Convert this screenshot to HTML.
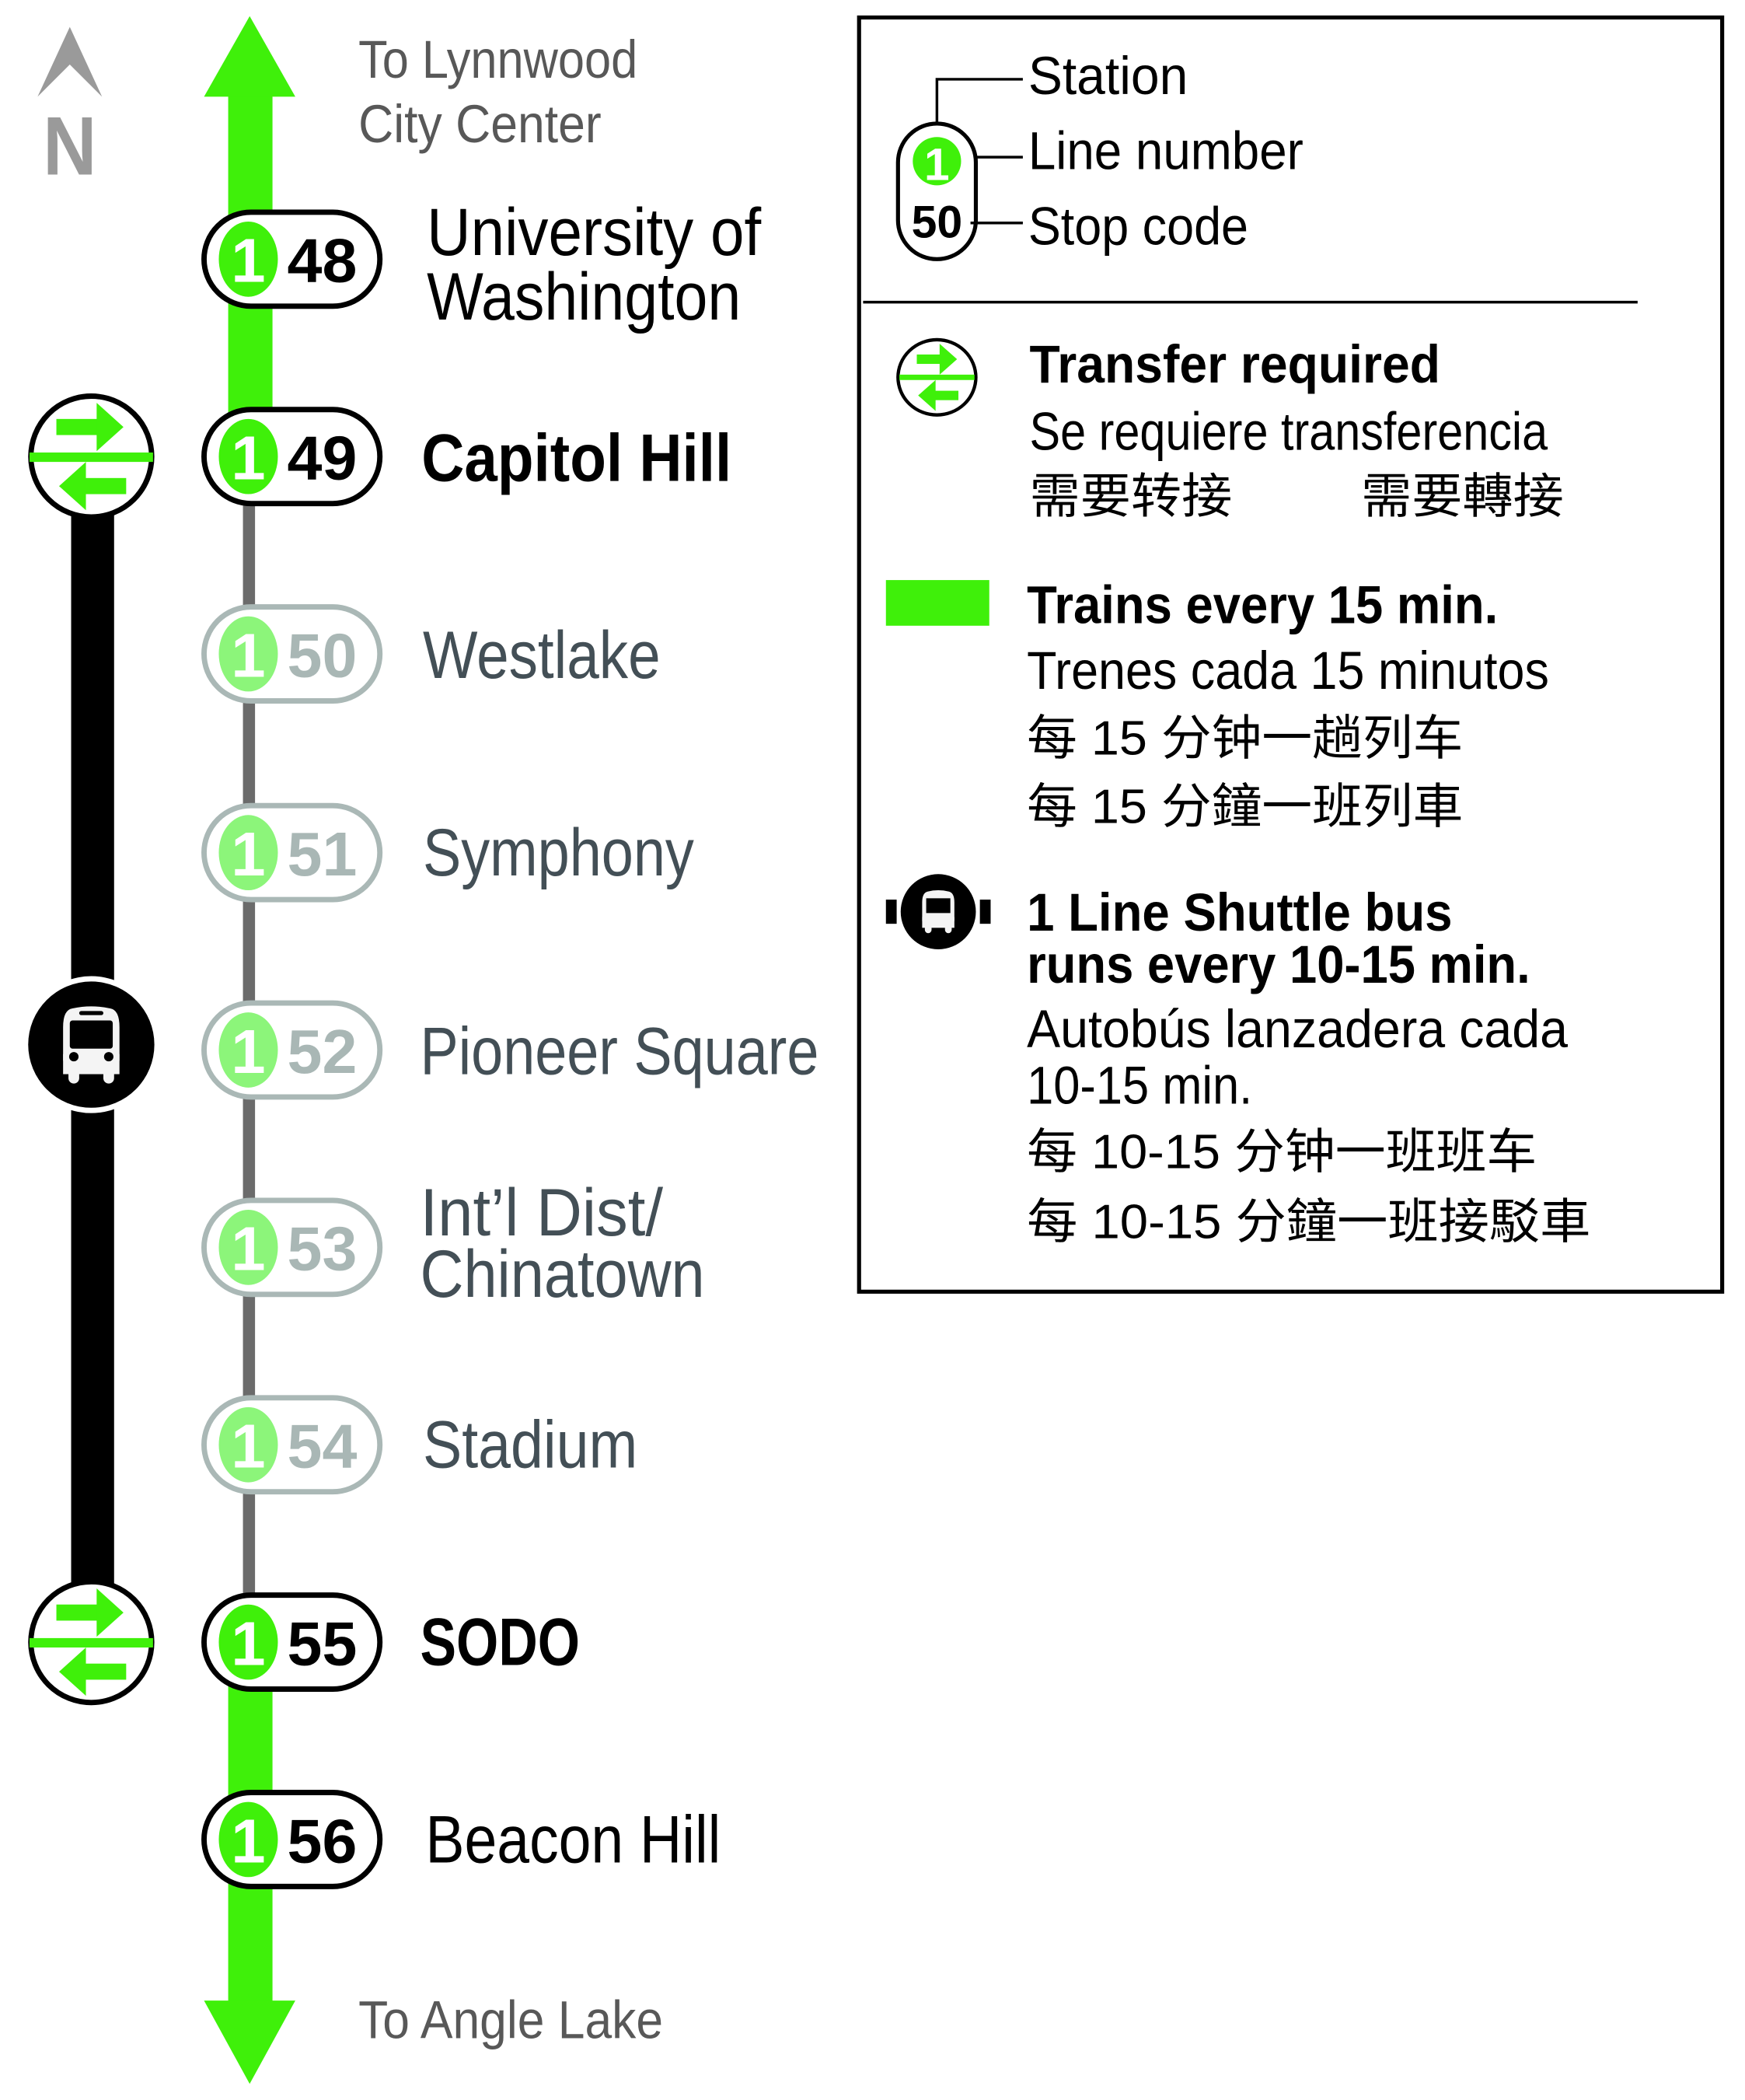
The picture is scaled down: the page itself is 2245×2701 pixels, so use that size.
<!DOCTYPE html>
<html><head><meta charset="utf-8"><style>
html,body{margin:0;padding:0;background:#fff;}
svg{display:block;}
text{font-family:"Liberation Sans Narrow","Liberation Sans","Noto Sans CJK SC",sans-serif;}
.cjk{font-family:"Liberation Sans","Noto Sans CJK SC",sans-serif;}
</style></head><body>
<svg width="2245" height="2701" viewBox="0 0 1300 1564" xmlns="http://www.w3.org/2000/svg">
<rect width="1300" height="1564" fill="#fff"/>
<polygon points="52,20 28,72 52,48 76,72" fill="#9a9a9a"/>
<text x="52" y="130" font-size="62" font-weight="bold" fill="#9a9a9a" text-anchor="middle" textLength="40" lengthAdjust="spacingAndGlyphs">N</text>

<rect x="170" y="70" width="33" height="260" fill="#3ff00a"/>
<polygon points="186,12 152,72 220,72" fill="#3ff00a"/>
<rect x="181" y="340" width="9" height="885" fill="#6b6b6b"/>
<rect x="170" y="1225" width="33" height="268" fill="#3ff00a"/>
<polygon points="186,1552 152,1490 220,1490" fill="#3ff00a"/>

<rect x="53" y="370" width="32" height="830" fill="#000"/>
<g>
<circle cx="68" cy="340" r="45" fill="#fff" stroke="#000" stroke-width="4"/>
<rect x="22" y="337" width="92" height="7" fill="#3ff00a"/>
<rect x="42" y="312" width="32" height="12" fill="#3ff00a"/><polygon points="72,300 92,318 72,336" fill="#3ff00a"/>
<rect x="62" y="356" width="32" height="12" fill="#3ff00a"/><polygon points="64,344 44,362 64,380" fill="#3ff00a"/>
</g>
<g transform="translate(0,883)">
<circle cx="68" cy="340" r="45" fill="#fff" stroke="#000" stroke-width="4"/>
<rect x="22" y="337" width="92" height="7" fill="#3ff00a"/>
<rect x="42" y="312" width="32" height="12" fill="#3ff00a"/><polygon points="72,300 92,318 72,336" fill="#3ff00a"/>
<rect x="62" y="356" width="32" height="12" fill="#3ff00a"/><polygon points="64,344 44,362 64,380" fill="#3ff00a"/>
</g>
<circle cx="68" cy="778" r="51" fill="#fff"/>
<circle cx="68" cy="778" r="47" fill="#000"/>
<g fill="#f4f4f4">
<path d="M47,790 L47,765 Q47,752 54,751 Q68,748 82,751 Q89,752 89,765 L89,790 Z"/>
<rect x="51" y="795" width="8" height="12" rx="4"/><rect x="77" y="795" width="8" height="12" rx="4"/>
<rect x="47" y="785" width="42" height="15"/>
</g>
<rect x="52" y="760" width="32" height="21" rx="2" fill="#000"/>
<rect x="59" y="753" width="18" height="3" rx="1.5" fill="#000"/>
<circle cx="55" cy="787" r="3.5" fill="#000"/><circle cx="81" cy="787" r="3.5" fill="#000"/>

<g font-weight="bold" font-size="46">
<g><rect x="152" y="158" width="131" height="70" rx="35" fill="#fff" stroke="#000" stroke-width="4"/>
<ellipse cx="185" cy="193" rx="22" ry="28" fill="#3ff00a"/><text x="185" y="210" fill="#fff" font-size="46" text-anchor="middle">1</text>
<text x="214" y="210" fill="#000" textLength="52" lengthAdjust="spacingAndGlyphs">48</text></g>
<g><rect x="152" y="305" width="131" height="70" rx="35" fill="#fff" stroke="#000" stroke-width="4"/>
<ellipse cx="185" cy="340" rx="22" ry="28" fill="#3ff00a"/><text x="185" y="357" fill="#fff" text-anchor="middle">1</text>
<text x="214" y="357" fill="#000" textLength="52" lengthAdjust="spacingAndGlyphs">49</text></g>
<g><rect x="152" y="452" width="131" height="70" rx="35" fill="#fff" stroke="#aab8b6" stroke-width="4"/>
<ellipse cx="185" cy="487" rx="22" ry="28" fill="#8cf57a"/><text x="185" y="504" fill="#fff" text-anchor="middle">1</text>
<text x="214" y="504" fill="#a9b7b5" textLength="52" lengthAdjust="spacingAndGlyphs">50</text></g>
<g><rect x="152" y="600" width="131" height="70" rx="35" fill="#fff" stroke="#aab8b6" stroke-width="4"/>
<ellipse cx="185" cy="635" rx="22" ry="28" fill="#8cf57a"/><text x="185" y="652" fill="#fff" text-anchor="middle">1</text>
<text x="214" y="652" fill="#a9b7b5" textLength="52" lengthAdjust="spacingAndGlyphs">51</text></g>
<g><rect x="152" y="747" width="131" height="70" rx="35" fill="#fff" stroke="#aab8b6" stroke-width="4"/>
<ellipse cx="185" cy="782" rx="22" ry="28" fill="#8cf57a"/><text x="185" y="799" fill="#fff" text-anchor="middle">1</text>
<text x="214" y="799" fill="#a9b7b5" textLength="52" lengthAdjust="spacingAndGlyphs">52</text></g>
<g><rect x="152" y="894" width="131" height="70" rx="35" fill="#fff" stroke="#aab8b6" stroke-width="4"/>
<ellipse cx="185" cy="929" rx="22" ry="28" fill="#8cf57a"/><text x="185" y="946" fill="#fff" text-anchor="middle">1</text>
<text x="214" y="946" fill="#a9b7b5" textLength="52" lengthAdjust="spacingAndGlyphs">53</text></g>
<g><rect x="152" y="1041" width="131" height="70" rx="35" fill="#fff" stroke="#aab8b6" stroke-width="4"/>
<ellipse cx="185" cy="1076" rx="22" ry="28" fill="#8cf57a"/><text x="185" y="1093" fill="#fff" text-anchor="middle">1</text>
<text x="214" y="1093" fill="#a9b7b5" textLength="52" lengthAdjust="spacingAndGlyphs">54</text></g>
<g><rect x="152" y="1188" width="131" height="70" rx="35" fill="#fff" stroke="#000" stroke-width="4"/>
<ellipse cx="185" cy="1223" rx="22" ry="28" fill="#3ff00a"/><text x="185" y="1240" fill="#fff" text-anchor="middle">1</text>
<text x="214" y="1240" fill="#000" textLength="52" lengthAdjust="spacingAndGlyphs">55</text></g>
<g><rect x="152" y="1335" width="131" height="70" rx="35" fill="#fff" stroke="#000" stroke-width="4"/>
<ellipse cx="185" cy="1370" rx="22" ry="28" fill="#3ff00a"/><text x="185" y="1387" fill="#fff" text-anchor="middle">1</text>
<text x="214" y="1387" fill="#000" textLength="52" lengthAdjust="spacingAndGlyphs">56</text></g>
</g>

<g font-size="40" fill="#585858">
<text x="267" y="58" textLength="208" lengthAdjust="spacingAndGlyphs">To Lynnwood</text>
<text x="267" y="106" textLength="181" lengthAdjust="spacingAndGlyphs">City Center</text>
<text x="267" y="1518" textLength="227" lengthAdjust="spacingAndGlyphs">To Angle Lake</text>
</g>
<g font-size="50" fill="#000">
<text x="318" y="190" textLength="249" lengthAdjust="spacingAndGlyphs">University of</text>
<text x="318" y="238" textLength="234" lengthAdjust="spacingAndGlyphs">Washington</text>
<text x="314" y="358" font-weight="bold" textLength="231" lengthAdjust="spacingAndGlyphs">Capitol Hill</text>
<text x="313" y="1240" font-weight="bold" textLength="119" lengthAdjust="spacingAndGlyphs">SODO</text>
<text x="317" y="1387" textLength="220" lengthAdjust="spacingAndGlyphs">Beacon Hill</text>
</g>
<g font-size="50" fill="#434f56">
<text x="315" y="505" textLength="177" lengthAdjust="spacingAndGlyphs">Westlake</text>
<text x="315" y="652" textLength="202" lengthAdjust="spacingAndGlyphs">Symphony</text>
<text x="313" y="800" textLength="297" lengthAdjust="spacingAndGlyphs">Pioneer Square</text>
<text x="313" y="920" textLength="181" lengthAdjust="spacingAndGlyphs">Int’l Dist/</text>
<text x="313" y="966" textLength="212" lengthAdjust="spacingAndGlyphs">Chinatown</text>
<text x="315" y="1093" textLength="160" lengthAdjust="spacingAndGlyphs">Stadium</text>
</g>

<rect x="640" y="13" width="643" height="949" fill="none" stroke="#000" stroke-width="3"/>
<rect x="669" y="92" width="58" height="101" rx="29" fill="#fff" stroke="#000" stroke-width="3"/>
<circle cx="698" cy="120" r="18" fill="#3ff00a"/>
<text x="698" y="134" font-size="34" font-weight="bold" fill="#fff" text-anchor="middle">1</text>
<text x="698" y="177" font-size="34" font-weight="bold" fill="#000" text-anchor="middle" textLength="38" lengthAdjust="spacingAndGlyphs">50</text>
<polyline points="698,92 698,59 762,59" fill="none" stroke="#000" stroke-width="2"/>
<line x1="727" y1="117" x2="762" y2="117" stroke="#000" stroke-width="2"/>
<line x1="723" y1="166" x2="762" y2="166" stroke="#000" stroke-width="2"/>
<g font-size="40" fill="#000">
<text x="766" y="70" textLength="119" lengthAdjust="spacingAndGlyphs">Station</text>
<text x="766" y="126" textLength="205" lengthAdjust="spacingAndGlyphs">Line number</text>
<text x="766" y="182" textLength="164" lengthAdjust="spacingAndGlyphs">Stop code</text>
</g>
<line x1="643" y1="225" x2="1220" y2="225" stroke="#000" stroke-width="2"/>
<ellipse cx="698" cy="281" rx="29" ry="28" fill="#fff" stroke="#000" stroke-width="2.5"/>
<rect x="670" y="279" width="56" height="4" fill="#3ff00a"/>
<rect x="683" y="264" width="18" height="7" fill="#3ff00a"/><polygon points="700,256 713,267.5 700,279" fill="#3ff00a"/>
<rect x="696" y="291" width="18" height="7" fill="#3ff00a"/><polygon points="697,283 684,294.5 697,306" fill="#3ff00a"/>
<g font-size="40" fill="#000">
<text x="767" y="285" font-weight="bold" textLength="306" lengthAdjust="spacingAndGlyphs">Transfer required</text>
<text x="767" y="335" textLength="386" lengthAdjust="spacingAndGlyphs">Se requiere transferencia</text>
<text x="767" y="382" class="cjk" font-size="36" textLength="151" lengthAdjust="spacingAndGlyphs">需要转接</text>
<text x="1014" y="382" class="cjk" font-size="36" textLength="151" lengthAdjust="spacingAndGlyphs">需要轉接</text>
</g>
<rect x="660" y="432" width="77" height="34" fill="#3ff00a"/>
<g font-size="40" fill="#000">
<text x="765" y="464" font-weight="bold" textLength="351" lengthAdjust="spacingAndGlyphs">Trains every 15 min.</text>
<text x="765" y="513" textLength="389" lengthAdjust="spacingAndGlyphs">Trenes cada 15 minutos</text>
<text x="765" y="562" class="cjk" font-size="36" textLength="325" lengthAdjust="spacingAndGlyphs">每 15 分钟一趟列车</text>
<text x="765" y="613" class="cjk" font-size="36" textLength="325" lengthAdjust="spacingAndGlyphs">每 15 分鐘一班列車</text>
</g>
<rect x="660" y="670" width="8" height="18" fill="#000"/>
<rect x="730" y="670" width="8" height="18" fill="#000"/>
<circle cx="699" cy="679" r="28" fill="#000"/>
<g fill="#f4f4f4">
<path d="M687,686 L687,672 Q687,665 691,664 Q699,662 707,664 Q711,665 711,672 L711,686 Z"/>
<rect x="689" y="688" width="5" height="7" rx="2.5"/><rect x="704" y="688" width="5" height="7" rx="2.5"/>
<rect x="687" y="683" width="24" height="8"/>
</g>
<rect x="690" y="669" width="18" height="11" fill="#000"/>
<g font-size="40" fill="#000">
<text x="765" y="693" font-weight="bold" textLength="317" lengthAdjust="spacingAndGlyphs">1 Line Shuttle bus</text>
<text x="765" y="732" font-weight="bold" textLength="375" lengthAdjust="spacingAndGlyphs">runs every 10-15 min.</text>
<text x="765" y="780" textLength="403" lengthAdjust="spacingAndGlyphs">Autobús lanzadera cada</text>
<text x="765" y="822" textLength="168" lengthAdjust="spacingAndGlyphs">10-15 min.</text>
<text x="765" y="870" class="cjk" font-size="36" textLength="380" lengthAdjust="spacingAndGlyphs">每 10-15 分钟一班班车</text>
<text x="765" y="922" class="cjk" font-size="36" textLength="420" lengthAdjust="spacingAndGlyphs">每 10-15 分鐘一班接駁車</text>
</g>
</svg>
</body></html>
